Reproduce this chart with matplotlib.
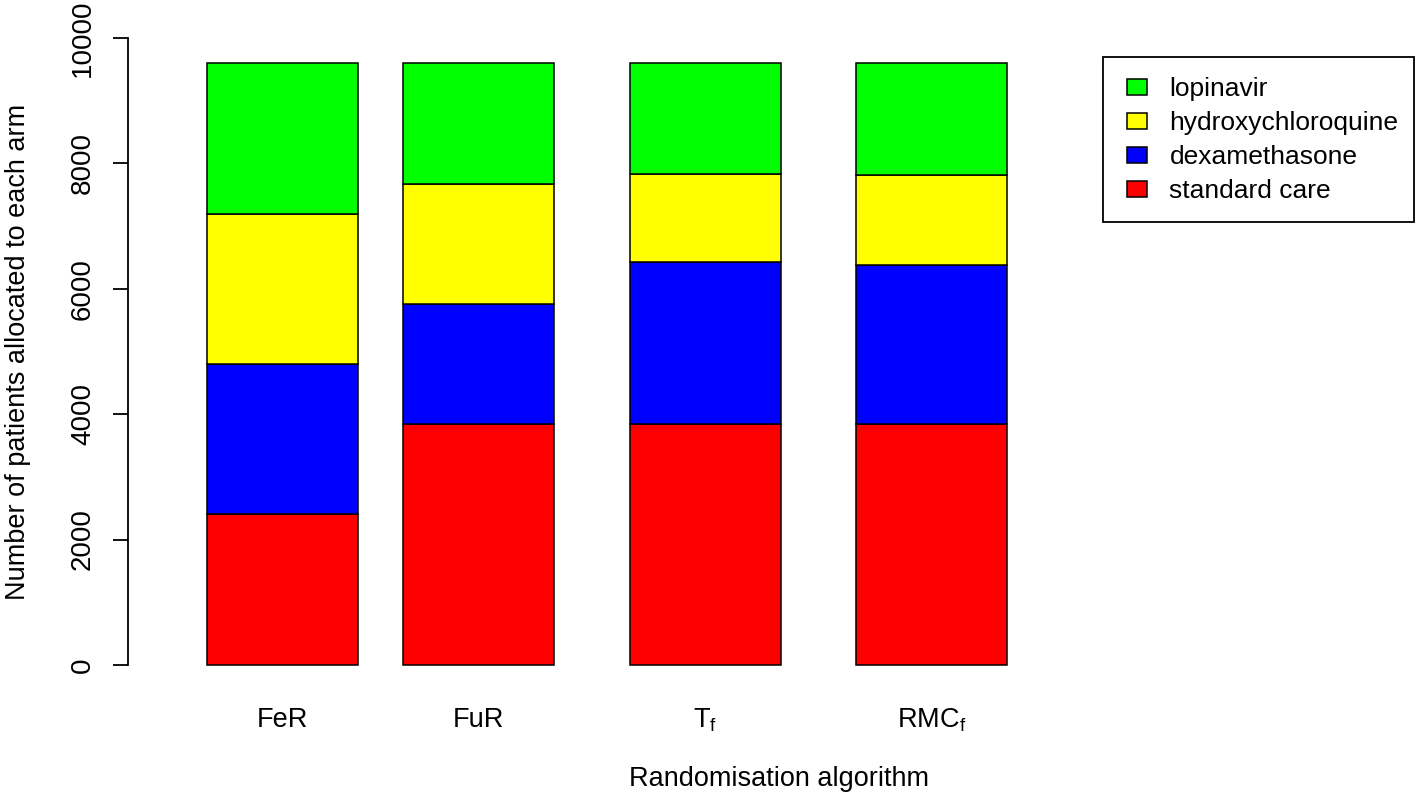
import matplotlib
matplotlib.use("Agg")
import matplotlib.pyplot as plt
from matplotlib.patches import Rectangle
import numpy as np

plt.rcParams["font.family"] = ["Liberation Sans", "DejaVu Sans"]
plt.rcParams["mathtext.fontset"] = "custom"
plt.rcParams["mathtext.rm"] = "Liberation Sans"

# data (stacked from bottom to top)
algorithms = ["FeR", "FuR", r"T$_\mathregular{f}$", r"RMC$_\mathregular{f}$"]
arms = ["standard care", "dexamethasone", "hydroxychloroquine", "lopinavir"]
standard_care = [2400, 3840, 3840, 3840]
dexamethasone = [2400, 1920, 2590, 2540]
hydroxychloroquine = [2400, 1920, 1400, 1430]
lopinavir = [2400, 1920, 1770, 1790]
arm_colors = ["#ff0000", "#0000ff", "#ffff00", "#00ff00"]

xpos = [0, 1.3, 2.8, 4.3]   # barplot spacing

W, H = 1416, 801
fig = plt.figure(figsize=(W / 100, H / 100), dpi=100)
ax = fig.add_axes([128 / W, 111 / H, 1302 / W, 677 / H])

bottom = np.zeros(len(algorithms))
handles = []
for vals, name, col in zip([standard_care, dexamethasone, hydroxychloroquine, lopinavir], arms, arm_colors):
    b = ax.bar(xpos, vals, width=1, bottom=bottom, color=col, edgecolor="black", lw=1.1, label=name)
    handles.append(b)
    bottom += np.array(vals)

ax.set_xlim(-1.023, 7.6)
ax.set_ylim(-400, 10400)

for s in ["top", "right", "bottom"]:
    ax.spines[s].set_visible(False)
ax.spines["left"].set_bounds(0, 10000)
ax.spines["left"].set_linewidth(1.3)

ax.set_yticks(np.arange(0, 10001, 2000))
ax.tick_params(axis="y", length=11, width=1.3, pad=12, labelsize=20, labelrotation=90)
for t in ax.get_yticklabels():
    t.set_va("center")
ax.set_xticks(xpos, algorithms)
ax.tick_params(axis="x", length=0, pad=12, labelsize=19.5)

ax.set_xlabel("Randomisation algorithm", fontsize=19.5)
ax.xaxis.set_label_coords(0.5, -0.112)
ax.set_ylabel("Number of patients allocated to each arm", fontsize=19.5)
ax.yaxis.set_label_coords(-0.0745, 0.5)

# legend box drawn separately (R style, right edge close to the figure border)
fig.patches.append(Rectangle((1103 / W, 1 - 222 / H), 311 / W, 165 / H, transform=fig.transFigure,
                             fill=False, edgecolor="black", lw=1.3))
leg = fig.legend(handles[::-1], arms[::-1], loc="upper left",
                 bbox_to_anchor=(1127 / W, 1 - 77 / H), bbox_transform=fig.transFigure,
                 fontsize=19, frameon=False,
                 borderaxespad=0, borderpad=0, labelspacing=0.38,
                 handlelength=0.76, handleheight=0.55, handletextpad=0.85)

fig.savefig("out.png", dpi=100)
